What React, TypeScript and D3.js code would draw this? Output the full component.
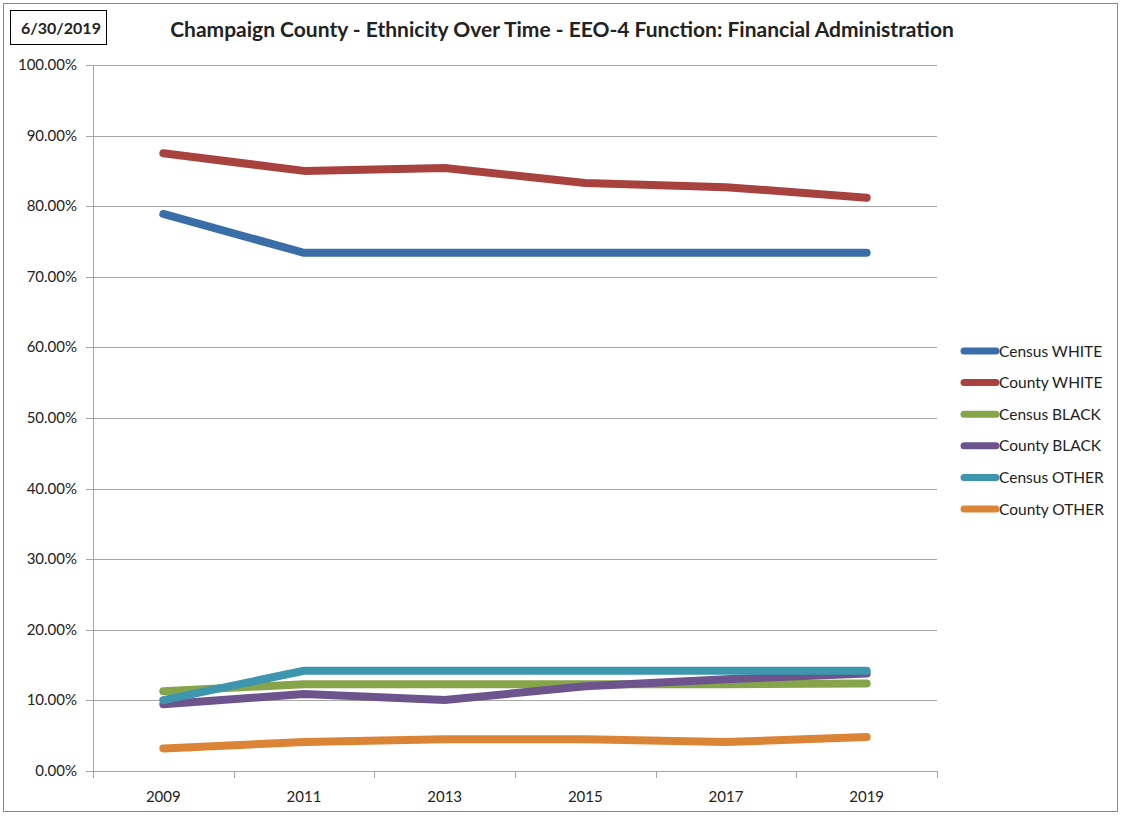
import React from "react";
import * as d3 from "d3";

const years = ["2009", "2011", "2013", "2015", "2017", "2019"];
const censusWhite = [78.9, 73.4, 73.4, 73.4, 73.4, 73.4];
const countyWhite = [87.5, 85.0, 85.4, 83.3, 82.7, 81.2];
const censusBlack = [11.3, 12.3, 12.3, 12.3, 12.3, 12.4];
const countyBlack = [9.45, 10.9, 10.05, 12.0, 13.0, 13.8];
const censusOther = [10.05, 14.2, 14.2, 14.2, 14.2, 14.2];
const countyOther = [3.2, 4.1, 4.5, 4.5, 4.1, 4.8];
const yTicks = [0, 10, 20, 30, 40, 50, 60, 70, 80, 90, 100];

const series = [
  { name: "Census WHITE", values: censusWhite, color: "#3A6EA8" },
  { name: "County WHITE", values: countyWhite, color: "#A8423F" },
  { name: "Census BLACK", values: censusBlack, color: "#86A44A" },
  { name: "County BLACK", values: countyBlack, color: "#6E548D" },
  { name: "Census OTHER", values: censusOther, color: "#3D96AE" },
  { name: "County OTHER", values: countyOther, color: "#DB8436" },
];

const FONT = "Lato, 'Open Sans', sans-serif";

export default function App() {
  const W = 1121, H = 816;
  const left = 93, right = 937, top = 65, bottom = 771;
  const x = d3.scaleBand<string>().domain(years).range([left, right]);
  const y = d3.scaleLinear().domain([0, 100]).range([bottom, top]);
  const line = d3
    .line<number>()
    .x((_, i) => (x(years[i]) as number) + x.bandwidth() / 2)
    .y((v) => y(v));
  const grid = "#A6A6A6";
  const boundaries = [...years.map((c) => x(c) as number), right];
  return (
    <svg width={W} height={H} style={{ position: "absolute", left: 0, top: 0, background: "#fff" }}>
      <rect x={3.5} y={3.5} width={1114} height={808} fill="#fff" stroke="#888" strokeWidth={1} />
      <rect x={10.5} y={10.5} width={96} height={34} fill="#fff" stroke="#000" strokeWidth={1} />
      <text x={61} y={33.5} textAnchor="middle" fontFamily={FONT} fontWeight="bold" fontSize={16} fill="#222">
        6/30/2019
      </text>
      <text x={562} y={37} textAnchor="middle" fontFamily={FONT} fontWeight="bold" fontSize={21} fill="#222">
        Champaign County - Ethnicity Over Time - EEO-4 Function: Financial Administration
      </text>
      {yTicks.map((t) => (
        <g key={t}>
          <line x1={left - 7} x2={right} y1={Math.round(y(t)) + 0.5} y2={Math.round(y(t)) + 0.5} stroke={grid} strokeWidth={1} />
          <text x={77} y={y(t) + 5} textAnchor="end" fontFamily={FONT} fontSize={15} fill="#222">
            {t.toFixed(2) + "%"}
          </text>
        </g>
      ))}
      <line x1={left + 0.5} x2={left + 0.5} y1={top} y2={bottom + 7} stroke={grid} strokeWidth={1} />
      {boundaries.map((b, i) => (
        <line key={i} x1={Math.round(b) + 0.5} x2={Math.round(b) + 0.5} y1={bottom} y2={bottom + 7} stroke={grid} strokeWidth={1} />
      ))}
      {years.map((c) => (
        <text key={c} x={(x(c) as number) + x.bandwidth() / 2} y={802} textAnchor="middle" fontFamily={FONT} fontSize={15} fill="#222">
          {c}
        </text>
      ))}
      {series.map((s) => (
        <path key={s.name} d={line(s.values) || ""} fill="none" stroke={s.color} strokeWidth={8} strokeLinecap="round" strokeLinejoin="round" />
      ))}
      {series.map((s, i) => {
        const ly = 351 + i * 31.6;
        return (
          <g key={s.name}>
            <line x1={964} x2={996} y1={ly} y2={ly} stroke={s.color} strokeWidth={7} strokeLinecap="round" />
            <text x={999} y={ly + 5.5} fontFamily={FONT} fontSize={15.5} fill="#222">
              {s.name}
            </text>
          </g>
        );
      })}
    </svg>
  );
}
